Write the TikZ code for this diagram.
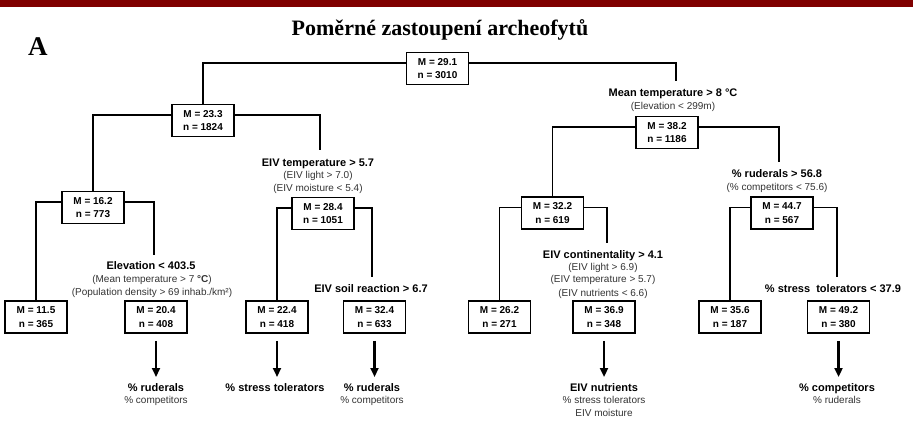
\documentclass[tikz,border=0pt]{standalone}
\usepackage{fontspec}
\setmainfont{Liberation Serif}
\newfontfamily\arial{Liberation Sans}
\usetikzlibrary{arrows.meta}
\definecolor{barred}{RGB}{128,0,0}
\begin{document}
\begin{tikzpicture}[x=1pt,y=-1pt,
  box/.style={draw, line width=1.7pt, minimum width=62pt, minimum height=32pt, inner sep=0pt, align=center, font=\arial\bfseries\fontsize{10}{13.3}\selectfont},
  cond/.style={anchor=base, inner sep=0pt, font=\arial\bfseries\fontsize{11}{13}\selectfont},
  sub/.style={anchor=base, inner sep=0pt, text=black!80, font=\arial\fontsize{10}{12}\selectfont},
  link/.style={line width=1.5pt},
  arr/.style={line width=2.2pt, -{Triangle[length=9pt,width=8pt]}},
]
\useasboundingbox (0,0) rectangle (913,423);
\fill[barred] (0,0) rectangle (913,7);
\node[anchor=base, inner sep=0pt, font=\bfseries\fontsize{22}{26}\selectfont] (title) at (440,35) {Poměrné zastoupení archeofytů};
\node[anchor=base west, inner sep=0pt, font=\bfseries\fontsize{27}{30}\selectfont] (lettA) at (28,55) {A};

% boxes
\node[box] (root) at (437.5,68.5) {M = 29.1\\n = 3010};
\node[box] (n233) at (203,120.5) {M = 23.3\\n = 1824};
\node[box] (n162) at (93,207.5) {M = 16.2\\n = 773};
\node[box] (n284) at (323,213.5) {M = 28.4\\n = 1051};
\node[box] (n115) at (36,317) {M = 11.5\\n = 365};
\node[box] (n204) at (156,317) {M = 20.4\\n = 408};
\node[box] (n224) at (277,317) {M = 22.4\\n = 418};
\node[box] (n324) at (374.5,317) {M = 32.4\\n = 633};
\node[box] (n382) at (667,132.5) {M = 38.2\\n = 1186};
\node[box] (n322) at (552.5,213) {M = 32.2\\n = 619};
\node[box] (n447) at (782,213) {M = 44.7\\n = 567};
\node[box] (n262) at (499.5,317) {M = 26.2\\n = 271};
\node[box] (n369) at (604,317) {M = 36.9\\n = 348};
\node[box] (n356) at (730,317) {M = 35.6\\n = 187};
\node[box] (n492) at (838.5,317) {M = 49.2\\n = 380};

% split labels
\node[cond] (l1a) at (673,96) {Mean temperature > 8 °C};
\node[sub]  (l1b) at (673,109) {(Elevation < 299m)};
\node[cond] (l2a) at (318,166) {EIV temperature > 5.7};
\node[sub]  (l2b) at (318,178) {(EIV light > 7.0)};
\node[sub]  (l2c) at (318,191) {(EIV moisture < 5.4)};
\node[cond] (l3a) at (151,269) {Elevation < 403.5};
\node[sub]  (l3b) at (152,282) {(Mean temperature > 7 \textbf{°C})};
\node[sub]  (l3c) at (152,295) {(Population density > 69 inhab./km²)};
\node[cond] (l4a) at (371,292) {EIV soil reaction > 6.7};
\node[cond] (l5a) at (777,177) {\% ruderals > 56.8};
\node[sub]  (l5b) at (777,190) {(\% competitors < 75.6)};
\node[cond] (l6a) at (603,258) {EIV continentality > 4.1};
\node[sub]  (l6b) at (603,270) {(EIV light > 6.9)};
\node[sub]  (l6c) at (603,282) {(EIV temperature > 5.7)};
\node[sub]  (l6d) at (603,296) {(EIV nutrients < 6.6)};
\node[cond] (l7a) at (833,292) {\% stress~ tolerators < 37.9};

% outcome labels
\node[cond] (o1a) at (156,391) {\% ruderals};
\node[sub]  (o1b) at (156,403) {\% competitors};
\node[cond] (o2a) at (275,391) {\% stress tolerators};
\node[cond] (o3a) at (372,391) {\% ruderals};
\node[sub]  (o3b) at (372,403) {\% competitors};
\node[cond] (o4a) at (604,391) {EIV nutrients};
\node[sub]  (o4b) at (604,403) {\% stress tolerators};
\node[sub]  (o4c) at (604,416) {EIV moisture};
\node[cond] (o5a) at (837,391) {\% competitors};
\node[sub]  (o5b) at (837,403) {\% ruderals};

% free ends of right branches
\coordinate (e1) at (676,81);
\coordinate (e2) at (320,150);
\coordinate (e3) at (154,255);
\coordinate (e4) at (372,277);
\coordinate (e5) at (779,162);
\coordinate (e6) at (607,243);
\coordinate (e7) at (837,277);

% connectors
\draw[link] ([yshift=5.5pt]root.west) -| (n233.north);
\draw[link] ([yshift=5.5pt]root.east) -| (e1);
\draw[link] ([yshift=5.5pt]n233.west) -| (n162.north);
\draw[link] ([yshift=5.5pt]n233.east) -| (e2);
\draw[link] ([yshift=5.5pt]n162.west) -| (n115.north);
\draw[link] ([yshift=5.5pt]n162.east) -| (e3);
\draw[link] ([yshift=5.5pt]n284.west) -| (n224.north);
\draw[link] ([yshift=5.5pt]n284.east) -| (e4);
\draw[link] ([yshift=5.5pt]n382.west) -| (n322.north);
\draw[link] ([yshift=5.5pt]n382.east) -| (e5);
\draw[link] ([yshift=5.5pt]n322.west) -| (n262.north);
\draw[link] ([yshift=5.5pt]n322.east) -| (e6);
\draw[link] ([yshift=5.5pt]n447.west) -| (n356.north);
\draw[link] ([yshift=5.5pt]n447.east) -| (e7);

% arrows
\draw[arr] ([yshift=-7pt]n204.south) -- (n204.south |- 0,377);
\draw[arr] ([yshift=-7pt]n224.south) -- (n224.south |- 0,377);
\draw[arr] ([yshift=-7pt]n324.south) -- (n324.south |- 0,377);
\draw[arr] ([yshift=-7pt]n369.south) -- (n369.south |- 0,377);
\draw[arr] ([yshift=-7pt]n492.south) -- (n492.south |- 0,377);
\end{tikzpicture}
\end{document}
